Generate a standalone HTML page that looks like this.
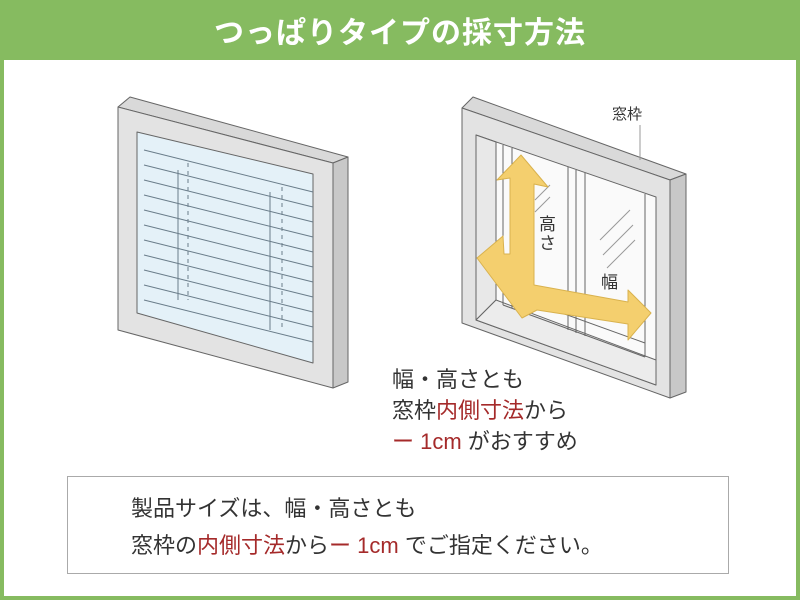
<!DOCTYPE html>
<html><head><meta charset="utf-8"><style>
body{margin:0;width:800px;height:600px;overflow:hidden;background:#86bb60;font-family:"Liberation Sans","Noto Sans CJK JP",sans-serif;}
#main{position:absolute;left:4px;top:60px;width:792px;height:536px;background:#fff;}
.t{position:absolute;white-space:nowrap;color:#333;}
.r{color:#a52a2a;}
</style></head><body>
<div class="t" style="left:0;width:800px;top:8px;text-align:center;color:#fff;font-size:30px;font-weight:bold;letter-spacing:1px;">つっぱりタイプの採寸方法</div>
<div id="main"></div>
<svg width="800" height="600" style="position:absolute;left:0;top:0">
<g stroke="#666" stroke-width="1" stroke-linejoin="round">
<polygon points="118,107 130,97 348,157 333,163" fill="#d9d9d9"/>
<polygon points="333,163 348,157 348,382 333,388" fill="#c8c8c8"/>
<polygon points="118,107 333,163 333,388 118,330" fill="#e3e3e3"/>
<polygon points="137,132 313,174 313,363 137,313" fill="#e4f1f8"/>
</g>
<g stroke="#6a7d8a" stroke-width="1" fill="none">
<path d="M144,150 L313,192 M144,165 L313,207 M144,180 L313,222 M144,195 L313,237 M144,210 L313,252 M144,225 L313,267 M144,240 L313,282 M144,255 L313,297 M144,270 L313,312 M144,285 L313,327 M144,300 L313,342"/>
<path d="M178,170 L178,300 M270,192 L270,330"/>
<path d="M188,163 L188,300 M282,187 L282,330" stroke-dasharray="4,4"/>
</g>
<g stroke="#666" stroke-width="1" stroke-linejoin="round">
<polygon points="462,108 473,97 686,174 670,180" fill="#d9d9d9"/>
<polygon points="670,180 686,174 686,392 670,398" fill="#c8c8c8"/>
<polygon points="462,108 670,180 670,398 462,323" fill="#e3e3e3"/>
<polygon points="476,135 656,197 656,385 476,320" fill="#fafafa"/>
<polygon points="476,135 496,142 496,300 476,320" fill="#e8e8e8"/>
<polygon points="476,320 496,300 656,360 656,385" fill="#ececec"/>
<path d="M503,145 L503,305 M512,148 L512,308 M568,167 L568,330 M576,170 L576,333 M585,173 L585,336 M645,194 L645,357 M503,305 L645,357 M512,295 L645,343" fill="none"/>
</g>
<g stroke="#999" stroke-width="1">
<path d="M535,200 L550,185 M535,212 L550,197 M600,240 L630,210 M603,255 L633,225 M607,268 L635,240"/>
<path d="M640,160 L640,125"/>
</g>
<g fill="#f4cf6e" stroke="#d9b24e" stroke-width="1" stroke-linejoin="round">
<polygon points="521,155 548,187 534,184 534,285 628,302 628,290 651,313 628,340 628,324 537,310 522,318 477,258 503,236 504,254 510,254 510,178 497,180"/>
</g>
</svg>
<div class="t" style="left:539px;top:215px;font-size:17px;width:18px;line-height:19px;white-space:normal;">高さ</div>
<div class="t" style="left:612px;top:103px;font-size:15px;">窓枠</div>
<div class="t" style="left:601px;top:268px;font-size:17px;">幅</div>
<div class="t" style="left:392px;top:364px;font-size:22px;line-height:31px;">幅・高さとも<br>窓枠<span class="r">内側寸法</span>から<br><span class="r">ー 1cm</span> がおすすめ</div>
<div style="position:absolute;left:67px;top:476px;width:660px;height:96px;border:1px solid #aaa;background:#fff;"></div>
<div class="t" style="left:131px;top:490px;font-size:22px;line-height:37px;">製品サイズは、幅・高さとも<br>窓枠の<span class="r">内側寸法</span>から<span class="r">ー 1cm</span> でご指定ください。</div>
</body></html>
